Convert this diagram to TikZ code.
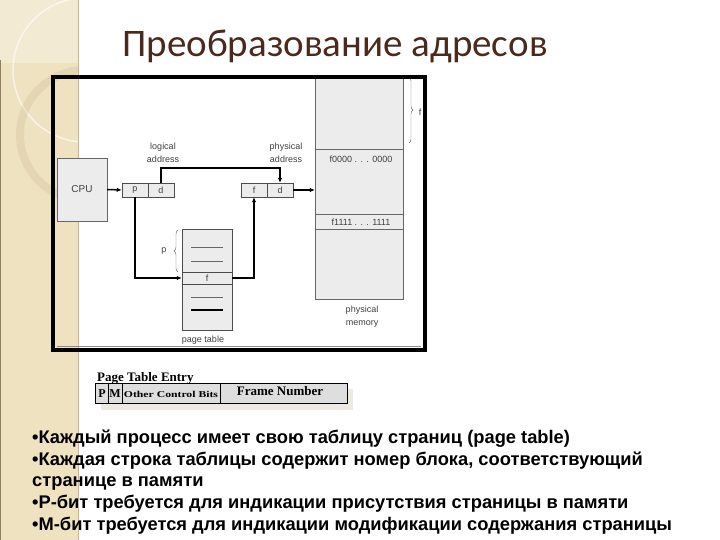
\documentclass[tikz,border=0pt]{standalone}
\usepackage{fontspec}
\setmainfont{Liberation Sans}
\newfontfamily\titlefont{Carlito}
\newfontfamily\entryfont{Liberation Serif}
\usetikzlibrary{arrows.meta, decorations.pathreplacing}
\definecolor{strip}{HTML}{EFE2C1}
\definecolor{stripedge}{HTML}{C9B58C}
\definecolor{titlebrown}{HTML}{4B2A1E}
\definecolor{boxgray}{HTML}{ECECEC}
\definecolor{entrygray}{HTML}{DEDEDE}
\definecolor{shadowgray}{HTML}{EDEAE2}
\begin{document}
\begin{tikzpicture}[x=1pt, y=-1pt, >={Latex[length=5pt, width=4.5pt]},
  every node/.style={inner sep=0pt, text=black!75},
  cell/.style={draw=black!70, fill=boxgray, minimum width=26pt, minimum height=14pt, font=\fontsize{9}{10}\selectfont},
  lbl/.style={font=\fontsize{9}{13}\selectfont, align=center},
  conn/.style={line width=1.5pt, black},
  entry/.style={font=\entryfont\bfseries\fontsize{12}{13}\selectfont, text=black}]
\useasboundingbox (0,0) rectangle (720,540);
% side strip
\fill[strip] (0,0) rectangle (78,540);
\fill[white, opacity=0.3] (0,0) rectangle (78,63);
\begin{scope}
\clip (0,0) rectangle (78,540);
\draw[white, opacity=0.6, line width=1.5pt] (85,70) circle[radius=72];
\draw[stripedge, opacity=0.25, line width=8pt] (85,135) circle[radius=65];
\end{scope}
\draw[stripedge, line width=0.8pt] (78,0) -- (78,540);
\draw[stripedge!70!black, line width=0.6pt] (0.3,60) -- (0.3,540);
% title
\node[font=\titlefont\fontsize{39}{42}\selectfont, text=titlebrown, anchor=base] (title) at (335,57) {Преобразование адресов};
% diagram
\node[draw=black!60, fill=boxgray, minimum width=50pt, minimum height=63pt, font=\fontsize{10}{11}\selectfont] (cpu) at (82,189.5) {CPU};
\node[cell] (lp) at (135,190) {p};
\node[cell] (ld) at (161,190) {d};
\node[cell] (pf) at (254,190) {f};
\node[cell] (pd) at (280,190) {d};
\node[lbl] (logical) at (163,152.5) {logical\\address};
\node[lbl] (physical) at (286,152.5) {physical\\address};
% physical memory
\node[draw=black!60, fill=boxgray, minimum width=88pt, minimum height=222pt] (mem) at (359,188) {};
\foreach \y in {149,214,229} \draw[black!60] (315,\y) -- (403,\y);
\node[lbl] (f0) at (361,159) {f0000 . . . 0000};
\node[lbl] (f1) at (361,222) {f1111 . . . 1111};
\node[lbl] (memlbl) at (362,316.5) {physical\\memory};
\draw[black!60, decorate, decoration={brace, amplitude=4pt}] (409,77) -- (409,143);
\node[lbl] (fside) at (420,112) {f};
% page table
\node[draw=black!70, fill=boxgray, minimum width=50pt, minimum height=101pt] (pt) at (207,279.5) {};
\node[draw=black!70, fill=boxgray, minimum width=50pt, minimum height=12pt, font=\fontsize{9}{10}\selectfont] (ptf) at (207,278) {f};
\draw[black!60, line width=1.3pt] (191,247.7) -- (223,247.7);
\draw[black!60] (191,260.7) -- (223,260.7);
\draw[black!60] (191,296.7) -- (223,296.7);
\draw[black, line width=1.3pt] (191,310) -- (223,310);
\draw[black!60, decorate, decoration={brace, amplitude=4pt}] (178,272) -- (178,230);
\node[lbl] (plbl) at (164,251) {p};
\node[lbl] (ptlbl) at (203,340.5) {page table};
% connectors
\draw[->, conn] (cpu.east) -- (lp.west);
\coordinate (top) at (161,168);
\draw[->, conn] (ld.north) -- (ld.north |- top) -| (pd.north);
\draw[->, conn] (lp.south) |- (ptf.west);
\draw[->, conn] (ptf.east) -| (pf.south);
\draw[->, conn] (pd.east) -- (pd.east -| mem.west);
% frame
\draw[black!45] (57,346) -- (421,346);
\draw[black, line width=3.5pt] (53,77) rectangle (425,350);
% page table entry
\fill[shadowgray] (101,389) rectangle (353,410);
\node[entry, anchor=base west, font=\entryfont\bfseries\fontsize{13}{14}\selectfont] (entrytitle) at (97,381) {Page Table Entry};
\node[draw=black, fill=entrygray, minimum width=252pt, minimum height=20pt] (entry) at (221,393) {};
\foreach \x in {108,122,220} \draw[black, line width=0.8pt] (\x,383) -- (\x,403);
\node[entry] (pbit) at (102,394) {P};
\node[entry] (mbit) at (115,394) {M};
\node[entry, font=\entryfont\bfseries\fontsize{9}{10}\selectfont] (other) at (171,394) {\scalebox{1.3}[1]{Other Control Bits}};
\node[entry, font=\entryfont\bfseries\fontsize{13}{14}\selectfont] (frame) at (280,391.5) {Frame Number};
% bullet text
\foreach \line [count=\i from 0] in {%
  {•Каждый процесс имеет свою таблицу страниц (page table)},
  {•Каждая строка таблицы содержит номер блока, соответствующий},
  {странице в памяти},
  {•Р-бит требуется для индикации присутствия страницы в памяти},
  {•М-бит требуется для индикации модификации содержания страницы}}
  \node[anchor=base west, text=black, font=\bfseries\fontsize{18.3}{21.7}\selectfont] (bullet\i) at (32,{443.5+21.7*\i}) {\line};
\end{tikzpicture}
\end{document}
